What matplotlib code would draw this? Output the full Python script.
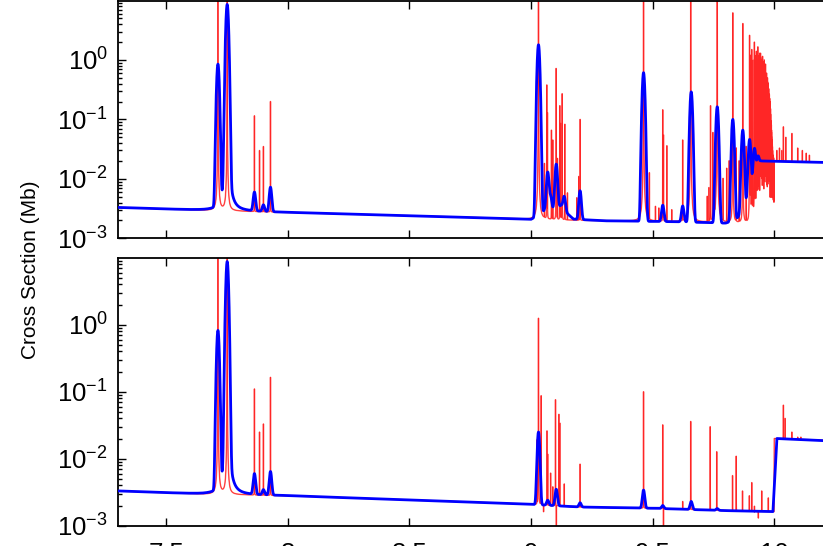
import numpy as np
import matplotlib
matplotlib.use("Agg")
import matplotlib.pyplot as plt
from matplotlib.ticker import LogLocator, NullFormatter, FixedLocator, FixedFormatter

plt.rcParams['font.family'] = ['Liberation Sans', 'DejaVu Sans']
plt.rcParams['mathtext.fontset'] = 'custom'
plt.rcParams['mathtext.rm'] = 'Liberation Sans'
plt.rcParams['mathtext.it'] = 'Liberation Sans:italic'
plt.rcParams['mathtext.bf'] = 'Liberation Sans:bold'
plt.rcParams['axes.unicode_minus'] = False

# ---------------- data ----------------
x_ticks = [7.5, 8.0, 8.5, 9.0, 9.5, 10.0]
x_tick_labels = ["7.5", "8", "8.5", "9", "9.5", "10"]
y_ticks = [1e-3, 1e-2, 1e-1, 1e0]
y_label = "Cross Section (Mb)"

# non-resonant background (energy, value)
top_bg_E = [7.30, 7.50, 7.65, 8.00, 8.50, 9.00, 9.30, 9.60, 9.80, 9.9995, 10.0005, 10.30]
top_bg_val = [3.3e-3, 3.1e-3, 2.95e-3, 2.72e-3, 2.4e-3, 2.08e-3, 1.97e-3, 1.9e-3, 1.8e-3, 1.72e-3, 0.020, 0.0185]
top_blue_bg_E = [7.30, 7.50, 7.65, 8.00, 8.50, 9.00, 9.045, 9.06, 9.09, 9.125, 9.15, 9.175, 9.30,
                 9.60, 9.80, 9.84, 9.86, 9.885, 9.909, 9.926, 9.938, 9.945, 10.30]
top_blue_bg_val = [3.3e-3, 3.1e-3, 2.95e-3, 2.72e-3, 2.4e-3, 2.08e-3, 2.6e-3, 3.2e-3, 3.0e-3, 3.6e-3,
                   2.6e-3, 2.1e-3, 1.97e-3, 1.9e-3, 1.8e-3, 2.0e-3, 2.5e-3, 4.0e-3, 7.0e-3, 0.012,
                   0.018, 0.020, 0.0185]
bot_bg_E = [7.30, 7.50, 7.65, 8.00, 8.50, 9.00, 9.20, 9.50, 9.80, 9.9995, 10.0005, 10.30]
bot_bg_val = [3.3e-3, 3.1e-3, 2.95e-3, 2.8e-3, 2.42e-3, 2.08e-3, 1.9e-3, 1.82e-3, 1.68e-3, 1.62e-3, 0.020, 0.0184]
bot_blue_bg_E = [7.30, 7.50, 7.65, 8.00, 8.50, 9.00, 9.20, 9.50, 9.80, 9.995, 10.011, 10.20, 10.30]
bot_blue_bg_val = [3.3e-3, 3.1e-3, 2.95e-3, 2.8e-3, 2.42e-3, 2.08e-3, 1.9e-3, 1.82e-3, 1.68e-3, 1.62e-3,
                   0.020, 0.0186, 0.0184]

# convolved (blue) resonance peaks: centre energy, peak value
top_blue_E = [7.713, 7.751, 7.863, 7.900, 7.929, 9.031, 9.069, 9.081, 9.104, 9.137, 9.202, 9.463,
              9.542, 9.624, 9.659, 9.766, 9.830, 9.871, 9.899, 9.919, 9.933]
top_blue_peak = [0.85, 8.5, 5.9e-3, 3.6e-3, 7.2e-3, 1.8, 0.013, 5.0e-3, 0.0177, 5.1e-3, 6.3e-3, 0.61,
                 3.6e-3, 3.5e-3, 0.29, 0.163, 0.100, 0.066, 0.046, 0.0325, 0.024]
bot_blue_E = [7.713, 7.751, 7.863, 7.900, 7.929, 9.031, 9.069, 9.104, 9.202, 9.463, 9.542, 9.659, 9.766]
bot_blue_peak = [0.82, 8.7, 5.9e-3, 3.4e-3, 6.4e-3, 0.025, 2.4e-3, 3.5e-3, 2.2e-3, 3.4e-3, 2.0e-3,
                 2.3e-3, 1.8e-3]
blue_tail_E = [7.751]
blue_tail_h = [0.08]

# high-resolution (red) resonance spikes: centre energy, peak value
top_red_E = [7.713, 7.751, 7.863, 7.884, 7.900, 7.929,
             9.031, 9.0555, 9.0654, 9.0679, 9.0843, 9.0901, 9.1036, 9.1090, 9.1188, 9.1229, 9.1283,
             9.1394, 9.1501, 9.1887, 9.1970, 9.2023,
             9.463, 9.487, 9.512, 9.526, 9.542, 9.545, 9.559, 9.579, 9.624, 9.657,
             9.725, 9.732, 9.7385, 9.748, 9.755, 9.790, 9.805, 9.815, 9.844, 9.856, 9.885,
             9.7659, 9.8302, 9.8713, 9.8990, 9.9187, 9.9331, 9.9440, 9.9525, 9.9591, 9.9645,
             9.9689, 9.9725, 9.9755, 9.9780, 9.9802, 9.9821, 9.9837, 9.9851, 9.9863, 9.9874,
             9.9884, 9.9892, 9.9900, 9.9907, 9.9913, 9.9918, 9.9923, 9.9928, 9.9932, 9.9936,
             9.9940, 9.9950, 9.9960, 9.9970, 9.9980, 9.9990,
             9.903, 9.908, 9.913, 9.923, 9.927, 9.930, 9.936, 9.939, 9.942, 9.946, 9.948, 9.950,
             9.9545, 9.9565, 9.961, 9.963, 9.966, 9.9675, 9.9707, 9.974, 9.9768, 9.9791, 9.9811,
             9.9945, 9.9955, 9.9965, 9.9975, 9.9985, 9.9995,
             10.011, 10.022, 10.032, 10.038, 10.048, 10.073, 10.097, 10.116, 10.132, 10.145]
top_red_peak = [30, 30, 0.115, 0.030, 0.035, 0.20,
                30, 0.018, 0.38, 0.13, 0.066, 0.045, 0.72, 0.022, 0.17, 0.087, 0.27,
                0.083, 5.8e-3, 4.8e-3, 0.011, 0.10,
                30, 0.0125, 3.4e-3, 3.2e-3, 0.145, 0.055, 0.036, 3.0e-3, 0.045, 30,
                5e-3, 7e-3, 0.17, 0.06, 0.03, 0.01, 0.015, 0.02, 0.033, 0.02, 0.035,
                30, 6.2, 4.1, 2.6, 2.0, 1.66, 1.3, 1.15, 1.0, 0.85,
                0.6, 0.5, 0.4, 0.32, 0.26, 0.22, 0.2, 0.15, 0.12, 0.095,
                0.08, 0.065, 0.059, 0.05, 0.045, 0.04, 0.036, 0.033, 0.03, 0.028,
                0.026, 0.024, 0.023, 0.022, 0.021, 0.02,
                1.2, 1.5, 1.0, 1.2, 1.4, 1.0, 1.2, 1.3, 0.9, 1.1, 1.0, 0.9,
                0.95, 0.8, 0.8, 0.75, 0.6, 0.55, 0.5, 0.42, 0.33, 0.27, 0.22,
                0.025, 0.024, 0.022, 0.021, 0.02, 0.02,
                0.03, 0.033, 0.03, 0.075, 0.05, 0.058, 0.033, 0.03, 0.027, 0.025]
bot_red_E = [7.713, 7.751, 7.863, 7.884, 7.900, 7.929,
             9.025, 9.031, 9.042, 9.066, 9.069, 9.081, 9.090, 9.101, 9.115, 9.119, 9.137, 9.202,
             9.463, 9.542, 9.624, 9.657, 9.737, 9.764, 9.829, 9.844, 9.870, 9.898, 9.908, 9.919,
             9.949, 9.976,
             10.038, 10.045, 10.073, 10.097, 10.110]
bot_red_peak = [30, 30, 0.11, 0.025, 0.033, 0.164,
                0.019, 1.25, 0.087, 0.026, 0.0117, 6.1e-3, 3.8e-3, 0.076, 0.046, 0.034, 4.2e-3, 8.3e-3,
                0.10, 0.032, 2.3e-3, 0.036, 0.030, 0.0127, 5.6e-3, 0.0109, 3.3e-3, 2.8e-3, 4.4e-3, 2.4e-3,
                3.3e-3, 2.6e-3,
                0.063, 0.040, 0.025, 0.021, 0.021]
# window resonances (dips) in the bottom red curve: centre energy, minimum value
bot_dip_E = [9.052, 9.1045, 9.545, 9.919, 9.935]
bot_dip_min = [1.6e-3, 8e-4, 8e-4, 1.2e-3, 1.3e-3]

# ---------------- line shapes ----------------
SIGMA = 0.0045      # instrumental Gaussian width (blue)
GAMMA = 6e-5        # natural Lorentzian half width (red spikes)
GAMMA_TAIL = 0.004
GAMMA_DIP = 1e-4

all_centres = np.array(top_red_E + bot_red_E + bot_dip_E)
E = np.union1d(np.arange(7.30, 10.30, 1e-5), all_centres)


def logi(x, xs, ys):
    return 10 ** np.interp(x, xs, np.log10(ys))


def blue_curve(bgE, bgV, cE, cV):
    bg = logi(E, bgE, bgV)
    y = bg.copy()
    for c, v in zip(cE, cV):
        a = v - logi(c, bgE, bgV)
        y += a * np.exp(-(E - c) ** 2 / (2 * SIGMA ** 2))
    for c, h in zip(blue_tail_E, blue_tail_h):
        y += h / (1 + ((E - c) / GAMMA_TAIL) ** 2)
    return y


def red_curve(bgE, bgV, cE, cV, dE=(), dV=()):
    bg = logi(E, bgE, bgV)
    y = bg.copy()
    for c, v in zip(dE, dV):
        d = 1 - v / logi(c, bgE, bgV)
        y *= 1 - d / (1 + ((E - c) / GAMMA_DIP) ** 2)
    for c, v in zip(cE, cV):
        a = v - logi(c, bgE, bgV)
        y += a / (1 + ((E - c) / GAMMA) ** 2)
    return y


top_red = red_curve(top_bg_E, top_bg_val, top_red_E, top_red_peak)
top_blue = blue_curve(top_blue_bg_E, top_blue_bg_val, top_blue_E, top_blue_peak)
bot_red = red_curve(bot_bg_E, bot_bg_val, bot_red_E, bot_red_peak, bot_dip_E, bot_dip_min)
bot_blue = blue_curve(bot_blue_bg_E, bot_blue_bg_val, bot_blue_E, bot_blue_peak)

# ---------------- figure ----------------
W, H = 823, 546
fig = plt.figure(figsize=(W / 100, H / 100), dpi=100)
left = 117.5 / W
width = 729.6 / W
ax_top = fig.add_axes([left, 1 - 238.3 / H, width, 237.8 / H])
ax_bot = fig.add_axes([left, 1 - 525.7 / H, width, 268.0 / H])

for ax, red, blue in ((ax_top, top_red, top_blue), (ax_bot, bot_red, bot_blue)):
    ax.plot(E, red, color='#ff0000', lw=1.1, alpha=0.5, zorder=2)
    ax.plot(E, red, color='#ff0000', lw=0.5, alpha=0.7, zorder=2)
    ax.plot(E, blue, color='#0000ff', lw=2.0, zorder=3)
    ax.set_yscale('log')
    ax.set_xlim(7.30, 10.30)
    ax.set_ylim(1e-3, 1e1)
    ax.yaxis.set_major_locator(FixedLocator(y_ticks))
    ax.yaxis.set_minor_locator(LogLocator(base=10, subs=np.arange(2, 10), numticks=20))
    ax.yaxis.set_minor_formatter(NullFormatter())
    ax.xaxis.set_major_locator(FixedLocator(x_ticks))
    ax.xaxis.set_major_formatter(FixedFormatter(x_tick_labels))
    ax.tick_params(which='both', direction='in', top=True, right=True, width=1.0, color='black')
    ax.tick_params(which='major', length=5.5)
    ax.tick_params(which='minor', length=3.0)
    ax.tick_params(axis='y', which='major', labelsize=18.5, pad=7.0)
    ax.tick_params(axis='x', which='major', labelsize=18.5, pad=11.5)
    for s in ax.spines.values():
        s.set_linewidth(1.3)
        s.set_color('black')

ax_top.tick_params(axis='x', labelbottom=False)

fig.text(31 / W, 1 - 270 / H, y_label, rotation=90, ha='center', va='center', fontsize=15)

fig.savefig('out.png', dpi=100)
